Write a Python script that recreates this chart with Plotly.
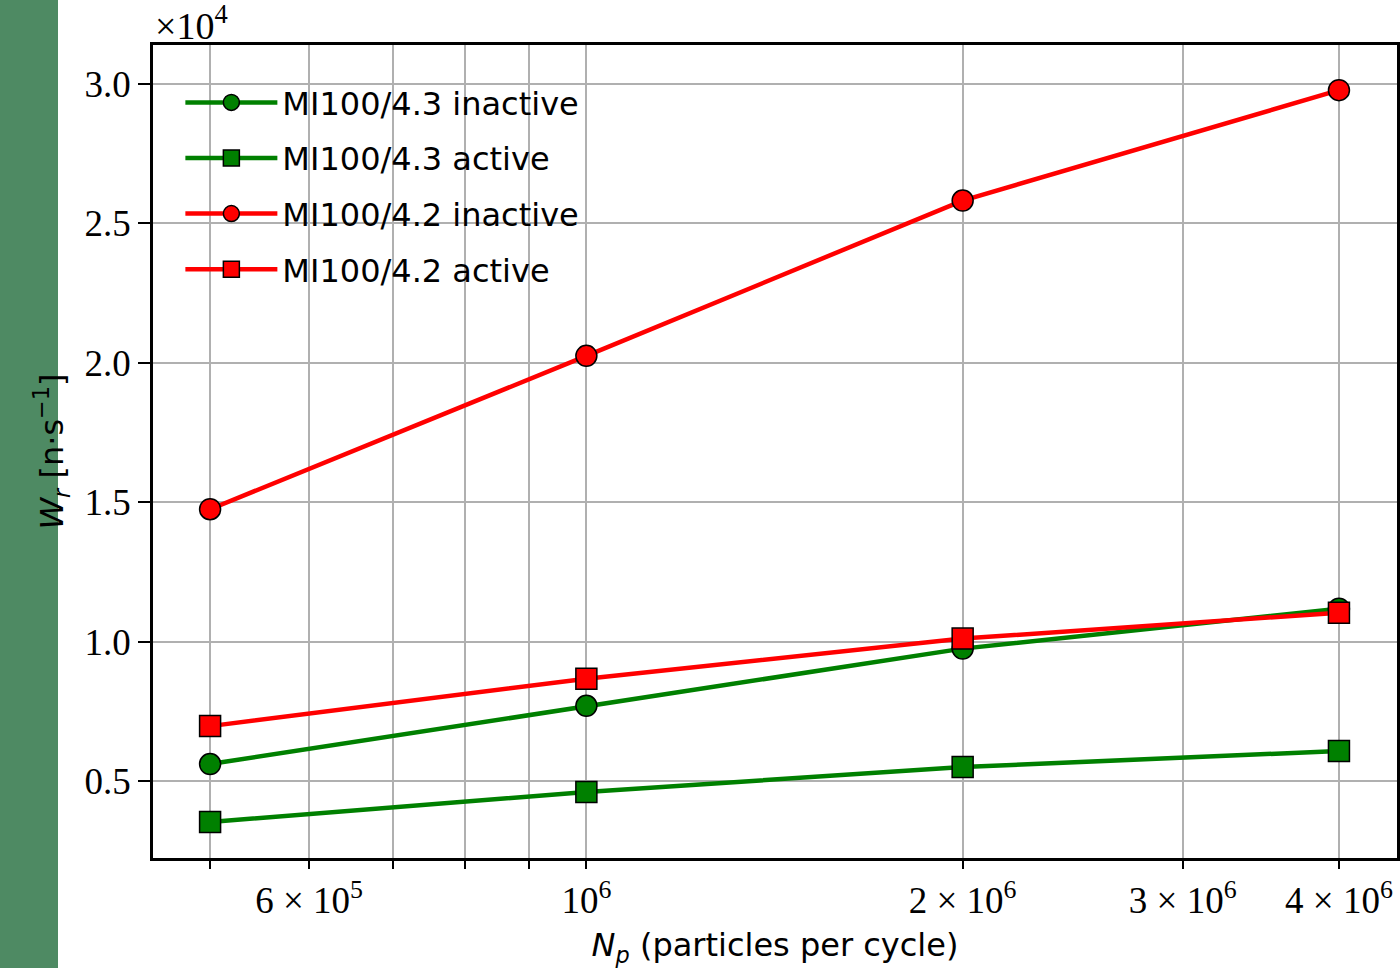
import plotly.graph_objects as go

# ---- data ----
particles = [5e5, 1e6, 2e6, 4e6]
w_43_inactive = [5610, 7700, 9750, 11180]
w_43_active = [3530, 4610, 5500, 6080]
w_42_inactive = [14750, 20250, 25820, 29780]
w_42_active = [6970, 8670, 10110, 11040]

series_names = ["MI100/4.3 inactive", "MI100/4.3 active", "MI100/4.2 inactive", "MI100/4.2 active"]

y_tick_vals = [5000, 10000, 15000, 20000, 25000, 30000]
y_tick_text = ["0.5", "1.0", "1.5", "2.0", "2.5", "3.0"]

x_tick_vals = [5e5, 6e5, 7e5, 8e5, 9e5, 1e6, 2e6, 3e6, 4e6]
x_tick_text = ["", "6 × 10<sup>5</sup>", "", "", "", "10<sup>6</sup>",
               "2 × 10<sup>6</sup>", "3 × 10<sup>6</sup>", "4 × 10<sup>6</sup>"]

GREEN = "#008000"
RED = "#ff0000"
SERIF = "Liberation Serif"
SANS = "DejaVu Sans"

fig = go.Figure()
styles = [
    (w_43_inactive, GREEN, "circle"),
    (w_43_active, GREEN, "square"),
    (w_42_inactive, RED, "circle"),
    (w_42_active, RED, "square"),
]
for i, (vals, col, sym) in enumerate(styles):
    fig.add_trace(go.Scatter(
        x=particles, y=vals, mode="lines+markers", name=series_names[i],
        legendgroup=f"g{i}",
        line=dict(color=col, width=4.5),
        marker=dict(symbol=sym, size=21, color=col, line=dict(color="black", width=1.5)),
    ))

fig.update_layout(
    width=1400, height=968,
    margin=dict(l=153, r=3, t=45, b=110),
    paper_bgcolor="white", plot_bgcolor="white",
    showlegend=True,
    legend=dict(
        x=0.022, y=0.963, xanchor="left", yanchor="top",
        bgcolor="rgba(0,0,0,0)", borderwidth=0,
        font=dict(family=SANS, size=32, color="black"),
        tracegroupgap=11, itemwidth=92,
    ),
    xaxis=dict(
        type="log", range=[5.6533, 6.6485],
        tickvals=x_tick_vals, ticktext=x_tick_text,
        ticks="outside", ticklen=8, tickwidth=2, tickcolor="black",
        showgrid=True, gridcolor="#b0b0b0", gridwidth=2,
        showline=True, linecolor="black", linewidth=2.5, mirror=True,
        zeroline=False,
        tickfont=dict(family=SERIF, size=37, color="black"),
        title=dict(text="<i>N<sub>p</sub></i> (particles per cycle)",
                   font=dict(family=SANS, size=32, color="black"), standoff=18),
    ),
    yaxis=dict(
        range=[2240, 31400],
        tickvals=y_tick_vals, ticktext=y_tick_text,
        ticks="outside", ticklen=12, tickwidth=2, tickcolor="black",
        showgrid=True, gridcolor="#b0b0b0", gridwidth=2,
        showline=True, linecolor="black", linewidth=2.5, mirror=True,
        zeroline=False,
        tickfont=dict(family=SERIF, size=37, color="black"),
        title=dict(text="<i>W<sub>r</sub></i> [n·s<sup>−1</sup>]",
                   font=dict(family=SANS, size=32, color="black"), standoff=12),
        automargin=False,
    ),
)

# green band on the left edge
fig.add_shape(type="rect", xref="paper", yref="paper", xsizemode="pixel", xanchor=0,
              x0=-153, x1=-95, y0=-0.2, y1=1.1, fillcolor="#4e8a63",
              line=dict(width=0), layer="below")

fig.add_annotation(text="×10<sup>4</sup>", xref="paper", yref="paper", x=0.0, y=1.0,
                   xanchor="left", yanchor="bottom", showarrow=False, yshift=-4,
                   font=dict(family=SERIF, size=38, color="black"))

fig.write_html("out.html")
